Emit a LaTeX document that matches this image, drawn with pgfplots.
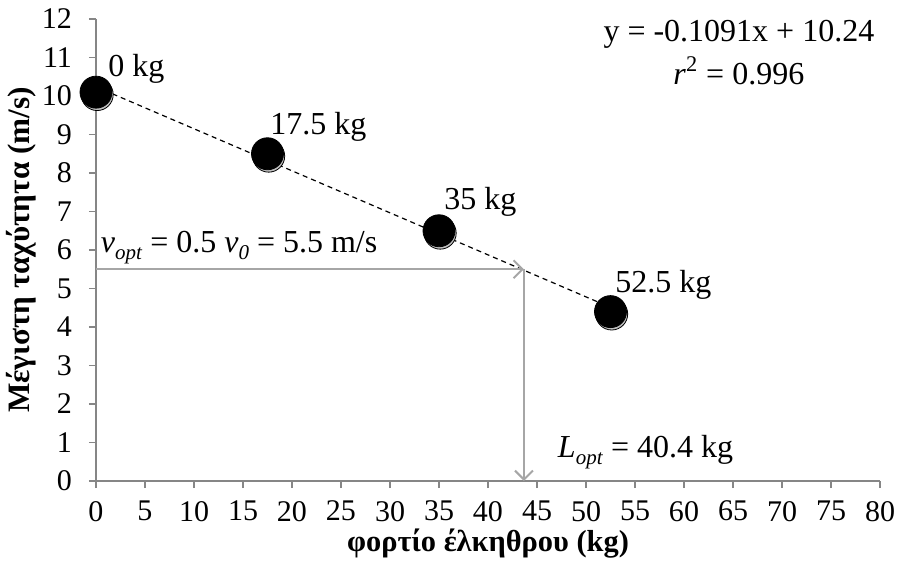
\documentclass[border=0pt]{standalone}
\usepackage{fontspec}
\setmainfont{Liberation Serif}
\usepackage{pgfplots}
\pgfplotsset{compat=1.18}
\usetikzlibrary{arrows.meta}
\definecolor{axgray}{RGB}{134,134,134}
\definecolor{argray}{RGB}{166,166,166}
\newcommand{\sub}[1]{\raisebox{-0.45ex}{\fontsize{10.5}{10.5}\selectfont\textit{#1}}}
\newcommand{\tickfont}{\fontsize{15}{17}\selectfont}
\begin{document}
\begin{tikzpicture}
\useasboundingbox (-48pt,-44pt) rectangle (400.5pt,240.5pt);
\begin{axis}[
 scale only axis, width=392pt, height=231pt,
 xmin=0,xmax=80,ymin=0,ymax=12,
 xtick={0,5,...,80}, ytick={0,1,...,12},
 axis lines=left, axis line style={-, axgray, line width=0.8pt},
 tick align=outside, major tick length=3.5pt, tick style={axgray, line width=0.8pt},
 /pgf/number format/assume math mode=true,
 xticklabel={\tickfont\pgfmathprintnumber{\tick}},
 yticklabel={\tickfont\pgfmathprintnumber{\tick}},
 xticklabel style={yshift=-3pt},
 yticklabel style={xshift=-5pt},
 xlabel={\textbf{φορτίο έλκηθρου (kg)}},
 ylabel={\textbf{Μέγιστη ταχύτητα (m/s)}},
 every axis x label/.style={at={(axis description cs:0.5,0)}, anchor=center, yshift=-31.5pt, font=\fontsize{15.2}{17}\selectfont},
 every axis y label/.style={at={(axis description cs:-0.095,0.5)}, rotate=90, anchor=center, font=\fontsize{15.6}{17}\selectfont},
 clip=false,
]
\addplot[black, dash pattern=on 2.5pt off 2pt, line width=0.6pt, no marks] coordinates {(0,10.24) (52.5,4.51)};
\addplot[only marks, mark=*, mark size=8pt, draw=none, mark options={fill=black!25, draw=none, xshift=0.6pt, yshift=-1.2pt}] coordinates {(0,10.1) (17.5,8.5) (35,6.5) (52.5,4.4)};
\addplot[only marks, mark=*, mark size=8pt, black] coordinates {(0,10.1) (17.5,8.5) (35,6.5) (52.5,4.4)};
\draw[argray, line width=1pt, -{Straight Barb[length=4.5pt,width=9pt]}] (axis cs:0,5.5) -- (axis cs:43.67,5.5);
\draw[argray, line width=1pt, -{Straight Barb[length=4.5pt,width=9pt]}] (axis cs:43.67,5.5) -- (axis cs:43.67,0);
\begin{scope}[every node/.style={font=\fontsize{16}{18}\selectfont, inner sep=0pt}]
\node[anchor=west] at (axis cs:1.22,10.7) {0 kg};
\node[anchor=west] at (axis cs:17.76,9.21) {17.5 kg};
\node[anchor=west] at (axis cs:35.5,7.24) {35 kg};
\node[anchor=west] at (axis cs:52.96,5.10) {52.5 kg};
\node at (axis cs:65.6,11.6) {y = -0.1091x + 10.24};
\node at (axis cs:65.6,10.65) {\textit{r}\textsuperscript{2} = 0.996};
\node[anchor=west] at (axis cs:0.45,6.06) {\textit{v}\sub{opt} = 0.5 \textit{v}\sub{0} = 5.5 m/s};
\node[anchor=west] at (axis cs:47.1,0.75) {\textit{L}\sub{opt} = 40.4 kg};
\end{scope}
\end{axis}
\end{tikzpicture}
\end{document}
